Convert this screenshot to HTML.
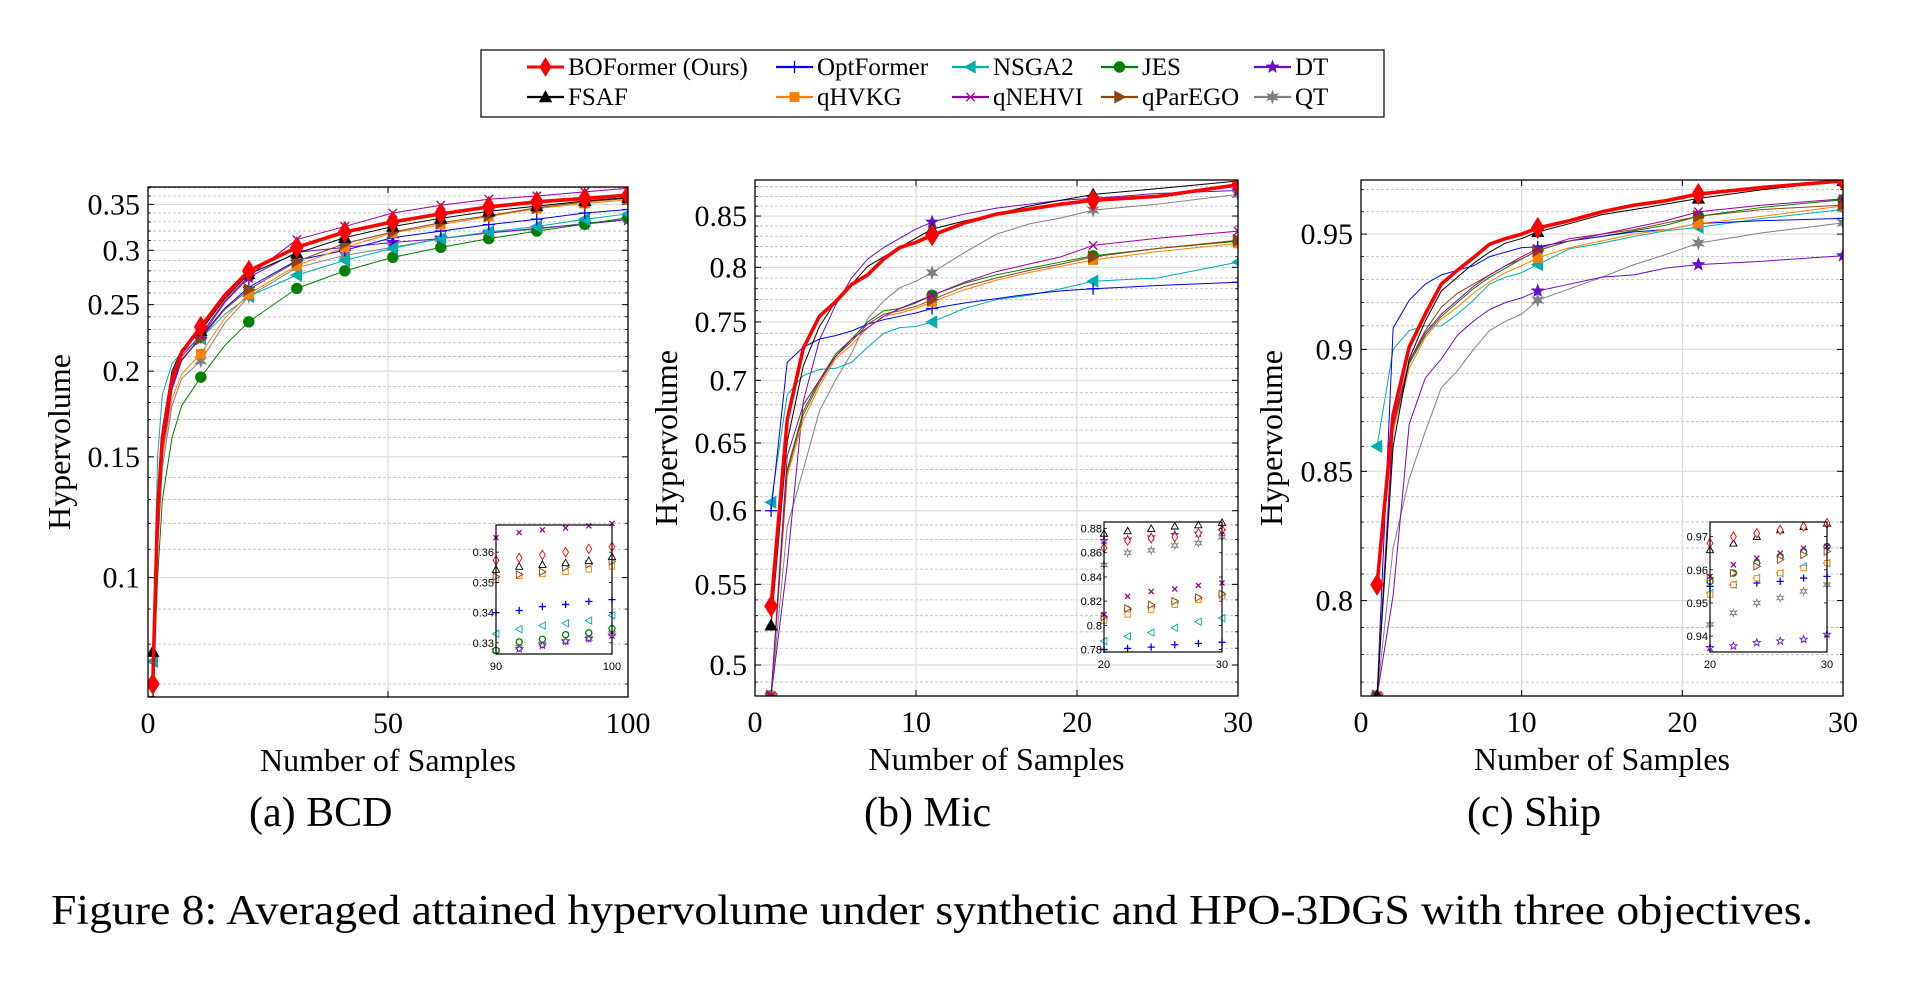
<!DOCTYPE html>
<html><head><meta charset="utf-8"><style>
html,body{margin:0;padding:0;background:#fff;}
svg{display:block;font-family:"Liberation Serif",serif;}
</style></head><body>
<svg id="fig" width="1908" height="981" viewBox="0 0 1908 981" xmlns="http://www.w3.org/2000/svg"></svg>
<script>
// ---------- BCD data ----------
const bcdX = [1,2,3,5,7,11,16,21,31,41,51,61,71,81,91,100];
const bcdBOFormer = [.070,.125,.16,.195,.213,.232,.258,.280,.303,.319,.330,.339,.347,.353,.357,.361];
const bcdFSAF = [.078,.13,.165,.20,.215,.229,.255,.277,.297,.313,.325,.334,.342,.348,.354,.358];
const bcdNSGA2 = [.0755,.15,.185,.205,.213,.223,.242,.257,.276,.290,.302,.312,.319,.325,.333,.339];
const bcdOptFormer = [.066,.12,.155,.19,.208,.224,.247,.265,.290,.300,.313,.320,.327,.333,.340,.344];
const bcdJES = [.066,.10,.13,.16,.178,.196,.218,.236,.264,.280,.293,.303,.312,.320,.3275,.3347];
const bcdDT = [.064,.11,.15,.188,.207,.224,.252,.274,.298,.303,.308,.312,.318,.323,.3275,.3325];
const bcdqHVKG = [.066,.115,.15,.182,.198,.212,.239,.259,.285,.303,.318,.327,.336,.345,.351,.3553];
const bcdqNEHVI = [.066,.12,.155,.19,.21,.226,.253,.275,.311,.325,.340,.349,.356,.360,.365,.3695];
const bcdqParEGO = [.066,.12,.155,.19,.208,.223,.246,.263,.289,.307,.319,.329,.337,.346,.353,.357];
const bcdQT = [.066,.11,.145,.178,.195,.207,.235,.257,.283,.295,.303,.312,.318,.322,.3285,.333];
const bcdMarkX = [1,11,21,31,41,51,61,71,81,91,100];
const bcdInsetX = [90,92,94,96,98,100];
const bcdInBOFormer = [.3573,.3581,.3591,.3600,.3611,.3618];
const bcdInFSAF = [.3543,.3553,.3559,.3565,.3572,.3585];
const bcdInNSGA2 = [.333,.3345,.3357,.3365,.3374,.3391];
const bcdInOptFormer = [.340,.3407,.342,.3427,.3437,.3443];
const bcdInJES = [.3275,.3303,.3312,.3327,.3333,.3347];
const bcdInDT = [.3275,.328,.3292,.3305,.3314,.3325];
const bcdInqHVKG = [.3508,.3522,.3528,.3535,.3543,.3553];
const bcdInqNEHVI = [.3648,.3665,.3674,.368,.3687,.3695];
const bcdInqParEGO = [.3519,.3526,.3535,.355,.356,.357];
const bcdInQT = [.3275,.3285,.3295,.3305,.3315,.333];
const bcdYTicks = [0.1,0.15,0.2,0.25,0.3,0.35];
const bcdYTickLabels = ["0.1","0.15","0.2","0.25","0.3","0.35"];
const bcdXTicks = [0,50,100];
const bcdInYTicks = [0.33,0.34,0.35,0.36];
const bcdInYLabels = ["0.33","0.34","0.35","0.36"];
const bcdInXTicks = [90,100];

// ---------- Mic data ----------
const micX = [1,2,3,4,5,6,7,8,9,10,11,13,15,17,19,21,25,30];
const micBOFormer = [.536,.668,.727,.755,.768,.784,.793,.808,.819,.824,.831,.843,.852,.857,.862,.866,.870,.882];
const micFSAF = [.524,.651,.712,.746,.768,.784,.801,.810,.819,.828,.837,.845,.852,.860,.866,.872,.878,.886];
const micNSGA2 = [.606,.688,.704,.709,.710,.715,.728,.740,.745,.746,.750,.762,.770,.774,.780,.787,.790,.805];
const micOptFormer = [.60,.715,.728,.735,.738,.742,.748,.752,.755,.758,.762,.767,.771,.775,.778,.780,.783,.786];
const micJES = [.482,.63,.675,.70,.722,.735,.75,.76,.762,.767,.774,.785,.793,.799,.805,.811,.818,.825];
const micDT = [.482,.563,.683,.734,.765,.79,.808,.819,.828,.837,.844,.852,.858,.862,.866,.868,.873,.876];
const micqHVKG = [.482,.625,.668,.695,.718,.73,.745,.755,.758,.762,.768,.779,.788,.795,.801,.807,.815,.823];
const micqNEHVI = [.482,.64,.68,.70,.72,.735,.745,.755,.762,.768,.774,.786,.796,.803,.810,.821,.828,.835];
const micqParEGO = [.482,.628,.672,.698,.72,.733,.748,.757,.760,.764,.770,.782,.790,.797,.803,.810,.818,.826];
const micQT = [.482,.589,.630,.675,.70,.723,.753,.769,.781,.787,.795,.814,.832,.842,.848,.856,.862,.872];
const micMarkX = [1,11,21,30];
const micInsetX = [20,22,24,26,28,30];
const micInBOFormer = [.864,.870,.872,.873,.876,.879];
const micInFSAF = [.876,.878,.880,.882,.883,.885];
const micInNSGA2 = [.787,.791,.794,.798,.803,.806];
const micInOptFormer = [.780,.781,.782,.784,.785,.786];
const micInJES = [.806,.813,.815,.819,.822,.825];
const micInDT = [.870,.871,.873,.875,.876,.878];
const micInqHVKG = [.804,.809,.813,.817,.821,.824];
const micInqNEHVI = [.809,.824,.828,.830,.833,.835];
const micInqParEGO = [.807,.814,.817,.820,.823,.826];
const micInQT = [.850,.860,.862,.866,.868,.873];
const micYTicks = [0.5,0.55,0.6,0.65,0.7,0.75,0.8,0.85];
const micYTickLabels = ["0.5","0.55","0.6","0.65","0.7","0.75","0.8","0.85"];
const micXTicks = [0,10,20,30];
const micInYTicks = [0.78,0.80,0.82,0.84,0.86,0.88];
const micInYLabels = ["0.78","0.8","0.82","0.84","0.86","0.88"];
const micInXTicks = [20,30];

// ---------- Ship data ----------
const shipX = [1,2,3,4,5,6,7,8,9,10,11,13,15,17,19,21,25,30];
const shipBOFormer = [.806,.873,.901,.915,.928,.934,.9396,.9455,.948,.950,.9527,.956,.960,.963,.965,.968,.971,.974];
const shipFSAF = [.765,.86,.896,.912,.925,.931,.937,.942,.946,.948,.951,.9547,.9587,.961,.9635,.966,.970,.974];
const shipNSGA2 = [.860,.900,.908,.910,.910,.915,.921,.928,.931,.933,.9365,.9435,.946,.949,.9515,.953,.957,.961];
const shipOptFormer = [.765,.909,.921,.928,.932,.934,.936,.940,.942,.944,.9443,.947,.949,.951,.952,.9547,.956,.957];
const shipJES = [.765,.866,.894,.906,.914,.920,.926,.931,.935,.939,.9427,.947,.949,.9515,.954,.958,.962,.9654];
const shipDT = [.765,.802,.869,.888,.896,.906,.912,.917,.920,.922,.925,.928,.931,.932,.935,.9365,.938,.9404];
const shipqHVKG = [.765,.866,.892,.905,.913,.918,.924,.929,.933,.936,.9395,.944,.947,.950,.952,.9547,.958,.9626];
const shipqNEHVI = [.765,.868,.895,.907,.915,.921,.927,.932,.936,.940,.9435,.948,.950,.953,.956,.960,.963,.9658];
const shipqParEGO = [.765,.87,.895,.908,.918,.924,.928,.932,.936,.939,.9427,.947,.950,.952,.955,.958,.961,.963];
const shipQT = [.765,.82,.847,.866,.884,.891,.900,.908,.912,.915,.921,.926,.931,.9365,.941,.946,.9506,.955];
const shipMarkX = [1,11,21,30];
const shipInsetX = [20,22,24,26,28,30];
const shipInBOFormer = [.968,.970,.971,.972,.973,.974];
const shipInFSAF = [.966,.968,.970,.972,.973,.974];
const shipInNSGA2 = [.953,.9555,.9575,.959,.961,.962];
const shipInOptFormer = [.955,.9555,.956,.9565,.9575,.958];
const shipInJES = [.9565,.959,.962,.964,.9655,.967];
const shipInDT = [.9365,.937,.938,.9385,.939,.9405];
const shipInqHVKG = [.9525,.9555,.9575,.959,.9605,.962];
const shipInqNEHVI = [.958,.9615,.9635,.965,.9665,.967];
const shipInqParEGO = [.9575,.959,.961,.963,.9645,.9655];
const shipInQT = [.9435,.947,.950,.9515,.9535,.9555];
const shipYTicks = [0.8,0.85,0.9,0.95];
const shipYTickLabels = ["0.8","0.85","0.9","0.95"];
const shipXTicks = [0,10,20,30];
const shipInYTicks = [0.94,0.95,0.96,0.97];
const shipInYLabels = ["0.94","0.95","0.96","0.97"];
const shipInXTicks = [20,30];

// ---------- rendering ----------
const NS = "http://www.w3.org/2000/svg";
const svg = document.getElementById('fig');
function mk(tag, attrs, parent){
  const e = document.createElementNS(NS, tag);
  for (const k in attrs) e.setAttribute(k, attrs[k]);
  (parent||svg).appendChild(e);
  return e;
}
const STYLE = {
  BOFormer:{c:'#ff0000',m:'diamond',w:3.6,label:'BOFormer (Ours)'},
  OptFormer:{c:'#0000ff',m:'plus',w:1,label:'OptFormer'},
  NSGA2:{c:'#00aeae',m:'ltri',w:1,label:'NSGA2'},
  JES:{c:'#007f00',m:'circle',w:1,label:'JES'},
  DT:{c:'#6a0dcc',m:'star',w:1,label:'DT'},
  FSAF:{c:'#000000',m:'tri',w:1,label:'FSAF'},
  qHVKG:{c:'#ff8000',m:'square',w:1,label:'qHVKG'},
  qNEHVI:{c:'#990099',m:'cross',w:1,label:'qNEHVI'},
  qParEGO:{c:'#8b4513',m:'rtri',w:1,label:'qParEGO'},
  QT:{c:'#808080',m:'star6',w:1,label:'QT'}
};
const ORDER = ['QT','DT','JES','NSGA2','OptFormer','qHVKG','qParEGO','qNEHVI','FSAF','BOFormer'];

function marker(g, type, x, y, s, col, filled){
  const fill = filled ? col : '#fff';
  const sw = filled ? 0.8 : 0.9;
  let e;
  if (type==='diamond') e = mk('polygon',{points:`${x},${y-s*1.3} ${x+s*0.8},${y} ${x},${y+s*1.3} ${x-s*0.8},${y}`,fill:fill,stroke:col,'stroke-width':sw},g);
  else if (type==='plus') e = mk('path',{d:`M${x-s},${y}H${x+s}M${x},${y-s}V${y+s}`,stroke:col,'stroke-width':1.3,fill:'none'},g);
  else if (type==='cross') e = mk('path',{d:`M${x-s*0.7},${y-s*0.7}L${x+s*0.7},${y+s*0.7}M${x-s*0.7},${y+s*0.7}L${x+s*0.7},${y-s*0.7}`,stroke:col,'stroke-width':1.3,fill:'none'},g);
  else if (type==='circle') e = mk('circle',{cx:x,cy:y,r:s*0.85,fill:fill,stroke:col,'stroke-width':sw+0.4},g);
  else if (type==='square') e = mk('rect',{x:x-s*0.75,y:y-s*0.75,width:s*1.5,height:s*1.5,fill:fill,stroke:col,'stroke-width':sw},g);
  else if (type==='tri') e = mk('polygon',{points:`${x},${y-s} ${x+s},${y+s*0.8} ${x-s},${y+s*0.8}`,fill:fill,stroke:col,'stroke-width':sw},g);
  else if (type==='ltri') e = mk('polygon',{points:`${x-s},${y} ${x+s*0.8},${y-s} ${x+s*0.8},${y+s}`,fill:fill,stroke:col,'stroke-width':sw},g);
  else if (type==='rtri') e = mk('polygon',{points:`${x+s},${y} ${x-s*0.8},${y-s} ${x-s*0.8},${y+s}`,fill:fill,stroke:col,'stroke-width':sw},g);
  else {
    const n = type==='star'?5:6; let p=[];
    for (let i=0;i<2*n;i++){const r=i%2?s*0.45:s*1.05; const a=-Math.PI/2+i*Math.PI/n; p.push((x+r*Math.cos(a)).toFixed(2)+','+(y+r*Math.sin(a)).toFixed(2));}
    e = mk('polygon',{points:p.join(' '),fill:fill,stroke:col,'stroke-width':sw},g);
  }
  return e;
}

function drawPanel(P){
  const g = mk('g',{});
  
  
  const L=P.left,R=P.right,T=P.top,B=P.bottom;
  const sx = v => L + (v-P.xmin)/(P.xmax-P.xmin)*(R-L);
  const ly0 = Math.log(P.ymin), ly1 = Math.log(P.ymax);
  const sy = v => B - (Math.log(v)-ly0)/(ly1-ly0)*(B-T);
  for (let k=Math.ceil(P.ymin*100+1e-6); k<=Math.floor(P.ymax*100); k++){
    const v=k/100; const y=sy(v);
    const isMajor = P.yticks.some(t=>Math.abs(t-v)<1e-9);
    if (!isMajor){
      const gl = mk('line',{x1:L,x2:R,y1:y,y2:y,stroke:'#b8b8b8','stroke-width':0.8,'stroke-dasharray':'3,2'},g);
      
      
      mk('line',{x1:L,x2:L+3,y1:y,y2:y,stroke:'#000','stroke-width':0.8},g);
      mk('line',{x1:R-3,x2:R,y1:y,y2:y,stroke:'#000','stroke-width':0.8},g);
    }
  }
  P.yticks.forEach((v,i)=>{
    const y=sy(v);
    const gl = mk('line',{x1:L,x2:R,y1:y,y2:y,stroke:'#dcdcdc','stroke-width':1.2},g);
    
    
    mk('line',{x1:L,x2:L+6,y1:y,y2:y,stroke:'#000','stroke-width':1},g);
    mk('line',{x1:R-6,x2:R,y1:y,y2:y,stroke:'#000','stroke-width':1},g);
    const t = mk('text',{x:L-8,y:y+10,'text-anchor':'end','font-size':30},g);
    t.textContent = P.ylabels[i];
    
    
  });
  P.xticks.forEach(v=>{
    const x=sx(v);
    if (v!==P.xmin && v!==P.xmax){
      const gl = mk('line',{x1:x,x2:x,y1:T,y2:B,stroke:'#dcdcdc','stroke-width':1.2},g);
      
      
    }
    mk('line',{x1:x,x2:x,y1:B,y2:B-6,stroke:'#000','stroke-width':1},g);
    mk('line',{x1:x,x2:x,y1:T,y2:T+6,stroke:'#000','stroke-width':1},g);
    const t = mk('text',{x:x,y:B+36,'text-anchor':'middle','font-size':30},g);
    t.textContent = String(v);
    
    
  });
  const cid = 'clip-'+P.id;
  const cp = mk('clipPath',{id:cid},g);
  mk('rect',{x:L,y:T,width:R-L,height:B-T},cp);
  const sg = mk('g',{'clip-path':`url(#${cid})`},g);
  ORDER.forEach(name=>{
    const st = STYLE[name]; const ys = P.series[name];
    const d = P.xs.map((xv,i)=>(i?'L':'M')+sx(xv).toFixed(2)+','+sy(ys[i]).toFixed(2)).join('');
    const pl = mk('path',{d:d,fill:'none',stroke:st.c,'stroke-width':st.w,'stroke-linejoin':'round'},sg);
    
    
    P.markX.forEach(mx=>{
      const i = P.xs.indexOf(mx); if (i<0) return;
      const m = marker(sg, st.m, sx(mx), sy(ys[i]), name==='BOFormer'?8:6, st.c, true);
      
      
    });
  });
  const fr = mk('rect',{x:L,y:T,width:R-L,height:B-T,fill:'none',stroke:'#000','stroke-width':1.3},g);
  
  
  const xl = mk('text',{x:(L+R)/2,y:B+74,'text-anchor':'middle','font-size':32},g);
  xl.textContent='Number of Samples';
  
  
  const yl = mk('text',{x:0,y:0,'text-anchor':'middle','font-size':32,transform:`translate(${P.ylabX},${P.ylabY}) rotate(-90)`},g);
  yl.textContent='Hypervolume';
  
  
  const cap = mk('text',{x:P.capX,y:826,'font-size':42},g);
  cap.textContent=P.caption;
  
  
  const I = P.inset;
  const ig = mk('g',{},g);
  
  
  mk('rect',{x:I.left,y:I.top,width:I.right-I.left,height:I.bottom-I.top,fill:'#fff',stroke:'none'},ig);
  const ix = v => I.left + (v-I.xmin)/(I.xmax-I.xmin)*(I.right-I.left);
  const iy = v => I.bottom - (v-I.ymin)/(I.ymax-I.ymin)*(I.bottom-I.top);
  ORDER.forEach(name=>{
    const st=STYLE[name];
    I.xs.forEach((xv,i)=>{
      const m = marker(ig, st.m, ix(xv), iy(I.series[name][i]), 3.6, st.c, false);
      
      
    });
  });
  mk('rect',{x:I.left,y:I.top,width:I.right-I.left,height:I.bottom-I.top,fill:'none',stroke:'#000','stroke-width':1.2},ig);
  I.yticks.forEach((v,i)=>{
    const y=iy(v);
    mk('line',{x1:I.left,x2:I.left+3,y1:y,y2:y,stroke:'#000','stroke-width':0.8},ig);
    mk('line',{x1:I.right-3,x2:I.right,y1:y,y2:y,stroke:'#000','stroke-width':0.8},ig);
    const t=mk('text',{x:I.left-2,y:y+4,'text-anchor':'end','font-size':11,'font-family':'Liberation Sans, sans-serif'},ig);
    t.textContent=I.ylabels[i];
    
    
  });
  I.xticks.forEach(v=>{
    const t=mk('text',{x:ix(v),y:I.bottom+16,'text-anchor':'middle','font-size':11,'font-family':'Liberation Sans, sans-serif'},ig);
    t.textContent=String(v);
    
    
  });
}

drawPanel({id:'bcd',left:148,right:628,top:187,bottom:697,xmin:0,xmax:100,ymin:0.067,ymax:0.371,
  yticks:bcdYTicks,ylabels:bcdYTickLabels,xticks:bcdXTicks,xs:bcdX,markX:bcdMarkX,
  series:{BOFormer:bcdBOFormer,FSAF:bcdFSAF,NSGA2:bcdNSGA2,OptFormer:bcdOptFormer,JES:bcdJES,DT:bcdDT,qHVKG:bcdqHVKG,qNEHVI:bcdqNEHVI,qParEGO:bcdqParEGO,QT:bcdQT},
  ylabX:70,ylabY:442,capX:249,caption:'(a) BCD',
  inset:{left:496,right:612,top:525,bottom:654,xmin:90,xmax:100,ymin:0.3263,ymax:0.369,xs:bcdInsetX,
    yticks:bcdInYTicks,ylabels:bcdInYLabels,xticks:bcdInXTicks,
    series:{BOFormer:bcdInBOFormer,FSAF:bcdInFSAF,NSGA2:bcdInNSGA2,OptFormer:bcdInOptFormer,JES:bcdInJES,DT:bcdInDT,qHVKG:bcdInqHVKG,qNEHVI:bcdInqNEHVI,qParEGO:bcdInqParEGO,QT:bcdInQT}}});
drawPanel({id:'mic',left:755,right:1238,top:180,bottom:696,xmin:0,xmax:30,ymin:0.482,ymax:0.887,
  yticks:micYTicks,ylabels:micYTickLabels,xticks:micXTicks,xs:micX,markX:micMarkX,
  series:{BOFormer:micBOFormer,FSAF:micFSAF,NSGA2:micNSGA2,OptFormer:micOptFormer,JES:micJES,DT:micDT,qHVKG:micqHVKG,qNEHVI:micqNEHVI,qParEGO:micqParEGO,QT:micQT},
  ylabX:677,ylabY:438,capX:864,caption:'(b) Mic',
  inset:{left:1104,right:1222,top:522,bottom:652,xmin:20,xmax:30,ymin:0.778,ymax:0.8854,xs:micInsetX,
    yticks:micInYTicks,ylabels:micInYLabels,xticks:micInXTicks,
    series:{BOFormer:micInBOFormer,FSAF:micInFSAF,NSGA2:micInNSGA2,OptFormer:micInOptFormer,JES:micInJES,DT:micInDT,qHVKG:micInqHVKG,qNEHVI:micInqNEHVI,qParEGO:micInqParEGO,QT:micInQT}}});
drawPanel({id:'ship',left:1361,right:1843,top:180,bottom:696,xmin:0,xmax:30,ymin:0.765,ymax:0.9744,
  yticks:shipYTicks,ylabels:shipYTickLabels,xticks:shipXTicks,xs:shipX,markX:shipMarkX,
  series:{BOFormer:shipBOFormer,FSAF:shipFSAF,NSGA2:shipNSGA2,OptFormer:shipOptFormer,JES:shipJES,DT:shipDT,qHVKG:shipqHVKG,qNEHVI:shipqNEHVI,qParEGO:shipqParEGO,QT:shipQT},
  ylabX:1282,ylabY:438,capX:1467,caption:'(c) Ship',
  inset:{left:1710,right:1827,top:522,bottom:652,xmin:20,xmax:30,ymin:0.9352,ymax:0.9744,xs:shipInsetX,
    yticks:shipInYTicks,ylabels:shipInYLabels,xticks:shipInXTicks,
    series:{BOFormer:shipInBOFormer,FSAF:shipInFSAF,NSGA2:shipInNSGA2,OptFormer:shipInOptFormer,JES:shipInJES,DT:shipInDT,qHVKG:shipInqHVKG,qNEHVI:shipInqNEHVI,qParEGO:shipInqParEGO,QT:shipInQT}}});

// legend
const lg = mk('g',{});


mk('rect',{x:481,y:50,width:903,height:67,fill:'#fff',stroke:'#000','stroke-width':1.2},lg);
const legendItems = [
  ['BOFormer',527,67],['OptFormer',776,67],['NSGA2',952,67],['JES',1101,67],['DT',1254,67],
  ['FSAF',527,97],['qHVKG',776,97],['qNEHVI',952,97],['qParEGO',1101,97],['QT',1254,97]
];
legendItems.forEach(([name,x,y])=>{
  const st=STYLE[name];
  const eg = mk('g',{},lg);
  
  
  mk('line',{x1:x,x2:x+37,y1:y,y2:y,stroke:st.c,'stroke-width':name==='BOFormer'?3:2.2},eg);
  marker(eg, st.m, x+18.5, y, name==='BOFormer'?7:6, st.c, true);
  const t=mk('text',{x:x+41,y:y+8,'font-size':25},eg);
  t.textContent=st.label;
});

const fc = mk('text',{x:51,y:924,'font-size':42,textLength:1762,lengthAdjust:'spacingAndGlyphs'});
fc.textContent='Figure 8: Averaged attained hypervolume under synthetic and HPO-3DGS with three objectives.';


</script>
</body></html>
